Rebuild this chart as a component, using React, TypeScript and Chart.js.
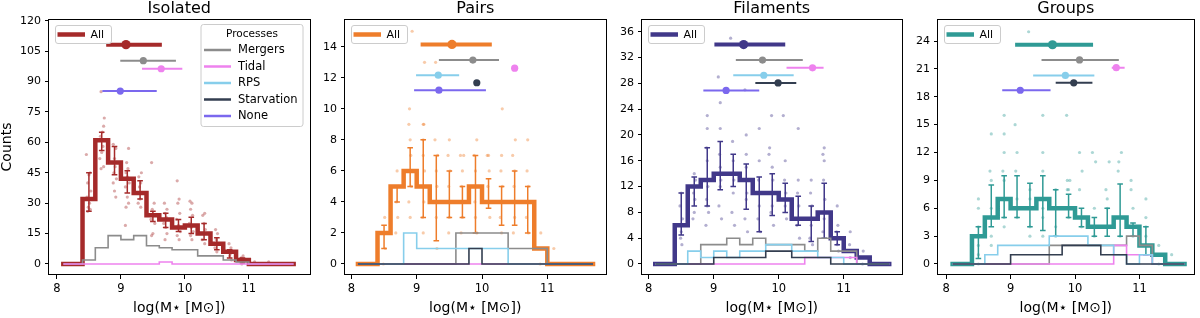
import React, { useEffect, useRef } from "react";
import { Chart, registerables } from "chart.js";
Chart.register(...registerables);

// ---------------- DATA ----------------
const binCenters = [8.1, 8.3, 8.5, 8.7, 8.9, 9.1, 9.3, 9.5, 9.7, 9.9, 10.1, 10.3, 10.5, 10.7, 10.9, 11.1, 11.3, 11.5, 11.7];
const panelTitles = ["Isolated", "Pairs", "Filaments", "Groups"];
const processNames = ["Mergers", "Tidal", "RPS", "Starvation", "None"];
const xTitle = "log(M⋆ [M⊙])";
const yTitle = "Counts";

// Isolated
const isolatedAll = [0, 0, 32, 61, 50, 42, 35, 24, 22, 18, 19, 15, 10, 6, 2, 0, 0, 0, 0];
const isolatedMergers = [0, 0, 2, 8, 14, 12, 14, 9, 8, 7, 7, 4, 4, 2, 1, 0, 0, 0, 0];
const isolatedTidal = [0, 0, 0, 0, 0, 0, 0, 0, 1, 0, 0, 0, 0, 0, 0, 0, 0, 0, 0];
const isolatedErrLo = [null, null, 26, 56, 44, 35, 32, 21, 18, 16, 15, 12, 7, 3, 0.5, null, null, null, null];
const isolatedErrHi = [null, null, 45, 65, 58, 46, 41, 26, 25, 22, 23, 20, 13, 7, 3, null, null, null, null];
const isolatedDots = [
  [8.46, 54], [8.52, 45], [8.5, 44], [8.48, 40], [8.53, 36], [8.47, 33], [8.51, 30], [8.49, 28], [8.52, 27], [8.48, 26],
  [8.69, 85], [8.74, 72], [8.73, 68], [8.71, 65], [8.68, 63], [8.72, 58], [8.7, 55], [8.67, 52], [8.73, 48], [8.69, 47],
  [8.88, 59], [8.92, 57], [8.9, 52], [8.87, 50], [8.91, 48], [8.89, 45], [8.93, 42], [8.88, 40], [8.9, 36], [8.92, 33],
  [9.12, 57], [9.09, 50], [9.11, 47], [9.08, 45], [9.1, 43], [9.13, 40], [9.07, 38], [9.1, 33], [9.12, 30], [9.08, 28], [9.07, 19],
  [9.32, 45], [9.28, 43], [9.31, 40], [9.29, 38], [9.33, 35], [9.3, 32], [9.27, 30], [9.31, 28],
  [9.48, 50], [9.52, 30], [9.49, 27], [9.51, 24], [9.47, 22], [9.53, 20], [9.5, 15], [9.48, 14],
  [9.68, 30], [9.72, 27], [9.69, 25], [9.71, 23], [9.73, 22], [9.67, 20], [9.7, 18], [9.72, 15], [9.69, 12],
  [9.88, 41], [9.91, 32], [9.89, 30], [9.92, 25], [9.87, 22], [9.9, 19], [9.93, 16], [9.88, 14], [9.91, 12],
  [10.08, 31], [10.11, 30], [10.09, 27], [10.12, 24], [10.07, 20], [10.1, 18], [10.13, 16], [10.09, 14], [10.11, 12],
  [10.31, 25], [10.28, 24], [10.3, 20], [10.32, 17], [10.29, 15], [10.27, 12], [10.31, 10],
  [10.48, 17], [10.51, 15], [10.49, 12], [10.52, 10], [10.47, 8], [10.5, 6],
  [10.69, 10], [10.72, 8], [10.68, 6], [10.71, 5], [10.7, 4], [10.73, 2],
  [10.91, 4], [10.88, 3], [10.9, 2], [10.92, 1], [10.89, 0], [11.09, 1], [11.12, 0], [11.31, 1],
];
const isolatedSumY = [108.2, 100.3, 96.3, null, null, 85.3];
const isolatedSumLo = [8.77, 8.99, 9.33, null, null, 8.71];
const isolatedSumMed = [9.08, 9.35, 9.63, null, null, 8.99];
const isolatedSumHi = [9.64, 9.86, 9.96, null, null, 9.56];

// Pairs
const pairsAll = [0, 0, 2, 5, 6, 5, 4, 4, 4, 5, 4, 4, 4, 4, 1, 0, 0, 0, 0];
const pairsMergers = [0, 0, 0, 0, 0, 0, 0, 0, 2, 2, 2, 2, 1, 1, 1, 0, 0, 0, 0];
const pairsTidal = [0, 0, 0, 0, 0, 0, 0, 0, 0, 0, 0, 0, 0, 0, 0, 0, 0, 0, 0];
const pairsRPS = [0, 0, 0, 0, 2, 1, 1, 1, 1, 1, 1, 1, 0, 0, 0, 0, 0, 0, 0];
const pairsStarvation = [0, 0, 0, 0, 0, 0, 0, 0, 0, 1, 0, 0, 0, 0, 0, 0, 0, 0, 0];
const pairsErrLo = [null, null, 1, 4, 5, 3, 1.5, 3, 3, 2, 3.6, 2.5, 2.5, 2, null, null, null, null, null];
const pairsErrHi = [null, null, 2.5, 5, 7.5, 8, 7, 6, 5, 7, 5.5, 5, 6, 5, null, null, null, null, null];
const pairsDots = [
  [8.49, 0], [8.52, 1], [8.48, 2], [8.51, 3],
  [8.68, 2], [8.71, 3], [8.69, 4], [8.72, 5], [8.7, 6],
  [8.93, 15], [8.89, 10], [8.88, 9], [8.9, 8], [8.91, 7], [8.89, 6], [8.92, 5], [8.88, 4], [8.9, 3],
  [9.12, 13], [9.1, 9], [9.11, 9], [9.1, 8], [9.1, 7], [9.12, 6], [9.08, 5], [9.11, 4], [9.09, 3], [9.1, 2],
  [9.29, 13], [9.28, 8], [9.32, 7], [9.3, 6], [9.31, 5], [9.29, 4], [9.3, 3], [9.31, 1],
  [9.5, 8], [9.48, 7], [9.51, 6], [9.49, 5], [9.52, 4], [9.5, 3], [9.49, 2],
  [9.67, 7], [9.72, 7], [9.7, 6], [9.69, 5], [9.71, 4], [9.7, 3], [9.68, 2],
  [9.92, 8], [9.88, 7], [9.9, 6], [9.91, 5], [9.89, 4], [9.9, 3], [9.92, 2],
  [10.08, 7], [10.1, 7], [10.11, 6], [10.09, 5], [10.1, 4], [10.12, 3],
  [10.31, 10], [10.3, 7], [10.29, 6], [10.31, 5], [10.3, 4], [10.28, 3], [10.3, 2],
  [10.51, 8], [10.47, 7], [10.5, 6], [10.49, 5], [10.52, 4], [10.5, 3], [10.48, 2],
  [10.7, 8], [10.69, 6], [10.71, 5], [10.7, 4], [10.68, 3], [10.71, 2],
  [10.9, 2], [10.91, 1], [10.89, 0], [11.1, 1], [11.09, 0],
];
const pairsSumY = [14.15, 13.14, 12.62, 12.17, 11.68, 11.2];
const pairsSumLo = [9.06, 9.34, 10.47, 8.99, 9.92, 8.96];
const pairsSumMed = [9.54, 9.86, 10.5, 9.33, 9.92, 9.34];
const pairsSumHi = [10.15, 10.26, 10.55, 9.65, 9.92, 10.06];

// Filaments
const filamentsAll = [0, 0, 6, 12, 13, 14, 14, 13, 11, 11, 10, 7, 7, 8, 4, 2, 1, 0, 0];
const filamentsMergers = [0, 0, 0, 0, 3, 3, 4, 3, 4, 3, 3, 3, 2, 4, 2, 2, 0, 0, 0];
const filamentsTidal = [0, 0, 0, 0, 0, 0, 0, 0, 0, 0, 0, 0, 1, 1, 1, 1, 0, 0, 0];
const filamentsRPS = [0, 0, 0, 2, 1, 2, 1, 2, 2, 3, 3, 2, 2, 1, 1, 0, 0, 0, 0];
const filamentsStarvation = [0, 0, 0, 0, 0, 1, 1, 1, 1, 2, 2, 1, 1, 1, 0, 0, 0, 0, 0];
const filamentsErrLo = [null, null, 4.5, 9, 9, 11.5, 12, 8.5, 5, 7.5, 8, 6, 3.5, 4, 3, null, null, null, null];
const filamentsErrHi = [null, null, 11, 13.5, 18, 19, 17, 15.5, 13.5, 14, 12.5, 10.5, 9, 12.5, 5, null, null, null, null];
const filamentsDots = [
  [9.26, 35], [9.07, 29], [9.48, 27], [9.1, 25], [8.9, 23], [9.89, 23], [10.07, 23], [8.9, 21], [9.1, 21], [9.7, 21], [10.3, 21],
  [9.5, 20], [9.29, 19], [8.89, 18], [9.86, 18], [10.7, 18], [9.5, 17], [9.85, 17], [10.68, 17],
  [8.5, 11], [8.48, 9], [8.52, 7], [8.5, 5], [8.49, 4], [8.51, 3],
  [8.7, 14], [8.72, 13], [8.69, 11], [8.71, 10], [8.7, 8], [8.68, 7],
  [8.9, 16], [8.91, 12], [8.89, 10], [8.9, 9], [8.92, 8], [8.88, 6],
  [9.09, 17], [9.1, 15], [9.11, 13], [9.1, 12], [9.08, 9], [9.12, 7],
  [9.3, 16], [9.29, 14], [9.31, 13], [9.3, 11], [9.28, 8], [9.32, 6],
  [9.5, 15], [9.49, 13], [9.51, 11], [9.5, 10], [9.48, 7], [9.52, 5],
  [9.7, 16], [9.69, 13], [9.71, 11], [9.7, 9], [9.68, 7], [9.72, 5],
  [9.9, 15], [9.91, 13], [9.89, 11], [9.9, 9], [9.88, 8], [9.92, 6],
  [10.1, 16], [10.09, 13], [10.11, 11], [10.1, 9], [10.12, 7],
  [10.3, 13], [10.29, 11], [10.31, 9], [10.3, 7], [10.28, 6], [10.32, 4],
  [10.5, 13], [10.49, 11], [10.51, 9], [10.5, 6], [10.48, 4], [10.52, 3],
  [10.7, 16], [10.69, 13], [10.71, 10], [10.7, 7], [10.68, 5],
  [10.9, 9], [10.91, 6], [10.89, 5], [10.9, 3], [10.92, 2],
  [11.1, 5], [11.09, 3], [11.11, 2], [11.1, 1], [11.3, 2], [11.31, 1], [11.29, 0],
];
const filamentsSumY = [34.0, 31.6, 30.4, 29.25, 28.06, 26.9];
const filamentsSumLo = [9.01, 9.34, 10.12, 9.3, 9.64, 8.84];
const filamentsSumMed = [9.46, 9.75, 10.52, 9.77, 9.99, 9.19];
const filamentsSumHi = [10.1, 10.37, 10.69, 10.23, 10.27, 9.7];

// Groups
const groupsAll = [0, 0, 3, 5, 7, 6, 6, 7, 6, 6, 5, 4, 4, 5, 4, 2, 1, 0, 0];
const groupsMergers = [0, 0, 0, 0, 0, 0, 0, 0, 2, 2, 2, 2, 2, 2, 3, 2, 0, 0, 0];
const groupsTidal = [0, 0, 0, 0, 0, 0, 0, 0, 0, 0, 0, 0, 0, 2, 1, 1, 0, 0, 0];
const groupsRPS = [0, 0, 0, 1, 2, 2, 2, 2, 3, 3, 3, 2, 2, 1, 0, 1, 0, 0, 0];
const groupsStarvation = [0, 0, 0, 0, 0, 1, 1, 1, 1, 2, 2, 2, 1, 1, 0, 0, 0, 0, 0];
const groupsErrLo = [null, null, 0.6, 4, 5, 5, 4, 3.6, 3, 5, 4, 3, 3, 3, 3, 1, null, null, null];
const groupsErrHi = [null, null, 4, 8.5, 9.5, 9.5, 8.7, 9.5, 8, 7.5, 6, 5, 6, 8.6, 4.4, 4, null, null, null];
const groupsDots = [
  [9.28, 25], [8.9, 16], [9.5, 16], [9.87, 16], [9.07, 15], [8.7, 14], [8.9, 14],
  [8.9, 12], [9.1, 12], [9.5, 12], [10.07, 12], [10.27, 12], [10.72, 12],
  [10.32, 11], [10.53, 11], [10.68, 11],
  [8.68, 10], [8.88, 10], [9.08, 10], [9.5, 10], [10.11, 10], [10.67, 10],
  [8.7, 9], [8.9, 9], [9.88, 9], [9.92, 9], [10.87, 9],
  [9.88, 8], [9.9, 8], [10.07, 8], [10.48, 8], [10.87, 8], [9.3, 8], [9.7, 8],
  [8.5, 7], [10.5, 7], [11.1, 7], [9.1, 7], [9.3, 7],
  [8.5, 6], [8.7, 6], [9.1, 6], [9.3, 6], [9.5, 6], [9.7, 6], [9.9, 6], [10.3, 6], [10.5, 6], [10.9, 6],
  [8.7, 5], [8.9, 5], [9.1, 5], [9.5, 5], [9.9, 5], [10.1, 5], [10.7, 5], [11.1, 5],
  [8.5, 4], [8.9, 4], [9.3, 4], [9.7, 4], [10.1, 4], [10.3, 4], [10.5, 4], [10.9, 4], [11.1, 4],
  [8.5, 3], [8.7, 3], [9.3, 3], [9.5, 3], [9.7, 3], [10.3, 3], [10.7, 3], [10.9, 3], [11.1, 3],
  [8.5, 2], [8.7, 2], [11.1, 2], [11.3, 2], [8.5, 1], [11.3, 1], [11.5, 1], [8.5, 0], [11.3, 0],
];
const groupsSumY = [23.6, 21.96, 21.13, 20.3, 19.5, 18.7];
const groupsSumLo = [9.07, 9.48, 10.57, 9.35, 9.7, 8.87];
const groupsSumMed = [9.65, 10.07, 10.64, 9.85, 9.98, 9.15];
const groupsSumHi = [10.28, 10.68, 10.77, 10.3, 10.27, 9.62];

// axis ranges and ticks
const xMins = [7.876, 7.902, 7.896, 7.873];
const xMaxs = [11.948, 11.891, 11.889, 11.839];
const yMins = [-5.43, -0.709, -1.705, -1.184];
const yMaxs = [120.84, 15.79, 37.97, 26.37];
const yTickSteps = [15, 2, 4, 3];

// ---------------- STYLE / LAYOUT ----------------
const FONT = "'DejaVu Sans', sans-serif";
const panelColors = ["#a52a2a", "#ee7d2b", "#413889", "#2f9a95"];
const processColors = ["#8c8c8c", "#ee82ee", "#87ceeb", "#333e50", "#7b68ee"];
const plotLefts = [49, 345, 642, 938];
const plotRights = [311, 607, 903, 1195];
const PLOT_TOP = 19;
const PLOT_BOTTOM = 275;
const H = 318;
const Y_AXIS_W = 49;

const panels = [
  { all: isolatedAll, procs: [isolatedMergers, isolatedTidal, null, null], errLo: isolatedErrLo, errHi: isolatedErrHi, dots: isolatedDots, sumY: isolatedSumY, sumLo: isolatedSumLo, sumMed: isolatedSumMed, sumHi: isolatedSumHi },
  { all: pairsAll, procs: [pairsMergers, pairsTidal, pairsRPS, pairsStarvation], errLo: pairsErrLo, errHi: pairsErrHi, dots: pairsDots, sumY: pairsSumY, sumLo: pairsSumLo, sumMed: pairsSumMed, sumHi: pairsSumHi },
  { all: filamentsAll, procs: [filamentsMergers, filamentsTidal, filamentsRPS, filamentsStarvation], errLo: filamentsErrLo, errHi: filamentsErrHi, dots: filamentsDots, sumY: filamentsSumY, sumLo: filamentsSumLo, sumMed: filamentsSumMed, sumHi: filamentsSumHi },
  { all: groupsAll, procs: [groupsMergers, groupsTidal, groupsRPS, groupsStarvation], errLo: groupsErrLo, errHi: groupsErrHi, dots: groupsDots, sumY: groupsSumY, sumLo: groupsSumLo, sumMed: groupsSumMed, sumHi: groupsSumHi },
];

function rgba(hex: string, a: number) {
  const n = parseInt(hex.slice(1), 16);
  return `rgba(${(n >> 16) & 255},${(n >> 8) & 255},${n & 255},${a})`;
}

function roundRect(ctx: CanvasRenderingContext2D, x: number, y: number, w: number, h: number, r: number) {
  ctx.beginPath();
  ctx.moveTo(x + r, y);
  ctx.lineTo(x + w - r, y);
  ctx.quadraticCurveTo(x + w, y, x + w, y + r);
  ctx.lineTo(x + w, y + h - r);
  ctx.quadraticCurveTo(x + w, y + h, x + w - r, y + h);
  ctx.lineTo(x + r, y + h);
  ctx.quadraticCurveTo(x, y + h, x, y + h - r);
  ctx.lineTo(x, y + r);
  ctx.quadraticCurveTo(x, y, x + r, y);
  ctx.closePath();
}

function buildDatasets(i: number) {
  const p = panels[i];
  const color = panelColors[i];
  const list: any[] = [];
  list.push({
    type: "scatter",
    data: p.dots.map(([x, y]) => ({ x, y })),
    pointRadius: 1.6,
    pointBackgroundColor: rgba(color, 0.4),
    pointBorderWidth: 0,
    showLine: false,
  });
  list.push({
    type: "line",
    data: binCenters.map((x, k) => ({ x, y: p.all[k] })),
    stepped: "middle",
    borderColor: color,
    borderWidth: 4.5,
    borderJoinStyle: "miter",
    borderCapStyle: "square",
    pointRadius: 0,
    fill: false,
  });
  const eb: any[] = [];
  binCenters.forEach((x, k) => {
    if (p.errLo[k] != null && p.errHi[k] != null) {
      eb.push({ x, y: p.errLo[k] }, { x, y: p.errHi[k] }, { x, y: null });
    }
  });
  list.push({
    type: "line",
    data: eb,
    spanGaps: false,
    borderColor: color,
    borderWidth: 1.5,
    pointStyle: "line",
    pointRadius: 2.8,
    pointBorderWidth: 1.5,
    pointBorderColor: color,
    fill: false,
  });
  p.procs.forEach((arr, j) => {
    if (!arr) return;
    list.push({
      type: "line",
      data: binCenters.map((x, k) => ({ x, y: arr[k] })),
      stepped: "middle",
      borderColor: processColors[j],
      borderWidth: 1.6,
      borderJoinStyle: "miter",
      pointRadius: 0,
      fill: false,
    });
  });
  const medPts: any[] = [];
  const medColors: string[] = [];
  const medRadii: number[] = [];
  p.sumY.forEach((y, r) => {
    if (y == null) return;
    const c = r === 0 ? color : processColors[r - 1];
    list.push({
      type: "line",
      data: [{ x: p.sumLo[r], y }, { x: p.sumHi[r], y }],
      borderColor: c,
      borderWidth: r === 0 ? 4 : 2,
      borderCapStyle: "butt",
      pointRadius: 0,
      fill: false,
    });
    medPts.push({ x: p.sumMed[r], y });
    medColors.push(c);
    medRadii.push(r === 0 ? 4.6 : 3.6);
  });
  list.push({
    type: "scatter",
    data: medPts,
    pointRadius: medRadii,
    pointBackgroundColor: medColors,
    pointBorderWidth: 0,
    showLine: false,
  });
  return list.map((d, k) => ({ ...d, order: 1000 - k }));
}

function makeChart(canvas: HTMLCanvasElement, i: number) {
  const color = panelColors[i];
  const decor = {
    id: "decor" + i,
    afterDraw(chart: any) {
      const ctx: CanvasRenderingContext2D = chart.ctx;
      const a = chart.chartArea;
      ctx.save();
      // frame
      ctx.strokeStyle = "#000";
      ctx.lineWidth = 1;
      ctx.strokeRect(Math.round(a.left) - 0.5, Math.round(a.top) + 0.5, Math.round(a.right - a.left) + 1, Math.round(a.bottom - a.top) - 1);
      // title
      ctx.fillStyle = "#000";
      ctx.font = `16px ${FONT}`;
      ctx.textAlign = "center";
      ctx.textBaseline = "alphabetic";
      ctx.fillText(panelTitles[i], (a.left + a.right) / 2, 13);
      // "All" legend
      const lx = a.left + 6;
      ctx.fillStyle = "rgba(255,255,255,0.8)";
      roundRect(ctx, lx + 0.5, 25.5, 56, 18, 2.5);
      ctx.fill();
      ctx.strokeStyle = "#cccccc";
      ctx.lineWidth = 1;
      ctx.stroke();
      ctx.strokeStyle = color;
      ctx.lineWidth = 4.5;
      ctx.beginPath();
      ctx.moveTo(lx + 2.5, 34.5);
      ctx.lineTo(lx + 30, 34.5);
      ctx.stroke();
      ctx.fillStyle = "#000";
      ctx.font = `11px ${FONT}`;
      ctx.textAlign = "left";
      ctx.textBaseline = "middle";
      ctx.fillText("All", lx + 35.5, 35);
      if (i === 0) {
        const bx = a.right - 109;
        ctx.fillStyle = "rgba(255,255,255,0.8)";
        roundRect(ctx, bx + 0.5, 24.5, 102, 102, 2.5);
        ctx.fill();
        ctx.strokeStyle = "#cccccc";
        ctx.lineWidth = 1;
        ctx.stroke();
        ctx.fillStyle = "#000";
        ctx.font = `10.5px ${FONT}`;
        ctx.textAlign = "center";
        ctx.fillText("Processes", bx + 51.5, 34.5);
        const rows = [50, 66.5, 83, 99.5, 116];
        processNames.forEach((name, j) => {
          ctx.strokeStyle = processColors[j];
          ctx.lineWidth = 2.5;
          ctx.beginPath();
          ctx.moveTo(bx + 3.5, rows[j]);
          ctx.lineTo(bx + 30.5, rows[j]);
          ctx.stroke();
          ctx.fillStyle = "#000";
          ctx.font = `11.5px ${FONT}`;
          ctx.textAlign = "left";
          ctx.fillText(name, bx + 37.5, rows[j] + 0.5);
        });
      }
      ctx.restore();
    },
  };

  return new Chart(canvas, {
    type: "line",
    data: { datasets: buildDatasets(i) as any },
    options: {
      animation: false,
      responsive: false,
      events: [],
      layout: { padding: { left: 0, right: 4, top: PLOT_TOP, bottom: 0 } },
      plugins: { legend: { display: false }, tooltip: { enabled: false }, title: { display: false } },
      scales: {
        x: {
          type: "linear",
          min: xMins[i],
          max: xMaxs[i],
          afterFit: (s: any) => { s.height = H - PLOT_BOTTOM; },
          ticks: { stepSize: 1, autoSkip: false, maxRotation: 0, includeBounds: false, color: "#000", font: { family: FONT, size: 11.5 }, padding: 3 },
          grid: { drawOnChartArea: false, drawTicks: true, tickLength: 4, color: "#000", tickColor: "#000" },
          border: { display: false },
          title: { display: true, text: xTitle, color: "#000", font: { family: FONT, size: 14, lineHeight: 1 }, padding: { top: 0, bottom: 3 } },
        },
        y: {
          type: "linear",
          min: yMins[i],
          max: yMaxs[i],
          afterFit: (s: any) => { s.width = Y_AXIS_W; },
          ticks: { stepSize: yTickSteps[i], autoSkip: false, includeBounds: false, color: "#000", font: { family: FONT, size: 11 }, padding: 4 },
          grid: { drawOnChartArea: false, drawTicks: true, tickLength: 4, color: "#000", tickColor: "#000" },
          border: { display: false },
          title: { display: i === 0, text: yTitle, color: "#000", font: { family: FONT, size: 14, lineHeight: 1 }, padding: { top: 0, bottom: 0 } },
        },
      },
    } as any,
    plugins: [decor],
  });
}

export default function App() {
  const canvases = useRef<(HTMLCanvasElement | null)[]>([]);
  useEffect(() => {
    const charts = panelTitles.map((_, i) => makeChart(canvases.current[i] as HTMLCanvasElement, i));
    return () => charts.forEach((c) => c.destroy());
  }, []);
  return (
    <div style={{ position: "absolute", left: 0, top: 0, width: 1200, height: H, background: "#fff", overflow: "hidden" }}>
      {panelTitles.map((t, i) => {
        const left = plotLefts[i] - Y_AXIS_W;
        const w = plotRights[i] - left + 4;
        return (
          <canvas
            key={t}
            ref={(el) => { canvases.current[i] = el; }}
            width={w}
            height={H}
            style={{ position: "absolute", left, top: 0, width: w, height: H }}
          />
        );
      })}
    </div>
  );
}
